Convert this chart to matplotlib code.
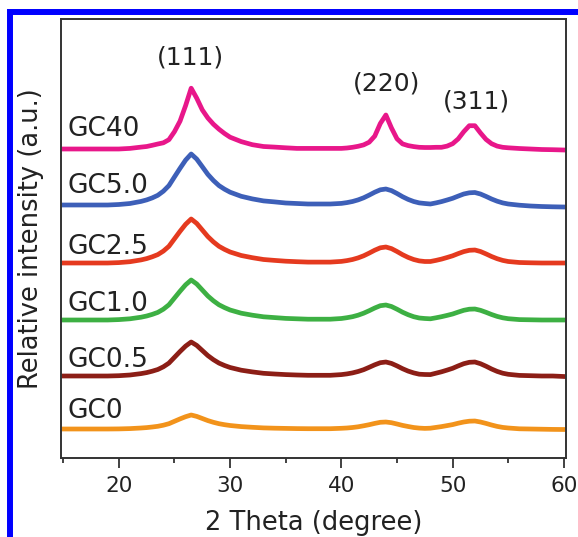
import matplotlib
matplotlib.use("Agg")
import matplotlib.pyplot as plt
from matplotlib.patches import Rectangle
from matplotlib.ticker import MultipleLocator

# 2-theta sampling positions (degree)
two_theta = [15, 16, 17, 18, 19, 20, 21, 22,
             22.5, 23, 23.5, 24, 24.5, 25, 25.5, 26, 26.5, 27, 27.5, 28, 28.5, 29, 29.5, 30,
             31, 32, 33, 34, 35, 36, 37, 38, 39, 40,
             40.5, 41, 41.5, 42, 42.5, 43, 43.5, 44, 44.5, 45, 45.5, 46, 46.5, 47, 47.5, 48,
             48.5, 49, 49.5, 50, 50.5, 51, 51.5, 52, 52.5, 53, 53.5, 54, 54.5, 55,
             56, 57, 58, 59, 60]

# offset intensity traces (a.u.)
gc40 = [313, 313, 313, 313, 313, 313, 313.6, 314.9,
        315.5, 316.7, 318, 319.2, 322.3, 330.4, 340.9, 356.4, 373.8, 363.8, 352.1, 344, 337.8, 332.8, 328.5, 324.8,
        320.4, 317.3, 315.5, 314.9, 314.2, 313.6, 313.6, 313.6, 313.6, 313.6,
        314, 314.7, 315.7, 317.1, 319.8, 325.9, 338.5, 347, 334.1, 323.2, 318.1, 316.4, 315.4, 314.7, 314.5, 314.5,
        314.7, 314.7, 315.9, 318.3, 323.1, 330.3, 336.3, 336.3, 329.1, 322.6, 318.3, 315.9, 314.7, 314.2,
        313.5, 313, 312.5, 312.3, 312]
gc50 = [257, 257, 257, 257, 257, 257.5, 258.5, 260.6,
        262.1, 264.1, 266.7, 270.8, 276.4, 285.1, 293.7, 301.9, 308, 302.9, 295.3, 287.6, 281.5, 276.4, 272.8, 269.8,
        265.7, 263.1, 261.1, 260.1, 259, 258.5, 258, 258, 258, 258.6,
        259.4, 260.5, 262.1, 264.2, 266.9, 269.8, 272.2, 273, 271.4, 268.5, 265.3, 262.6, 260.5, 259.1, 258.5, 258,
        259.1, 260.4, 262, 263.7, 265.9, 268, 269.2, 269.5, 268, 265.6, 263, 260.8, 259.1, 258,
        256.8, 256, 255.5, 255.2, 255]
gc25 = [199, 199, 199, 199, 199, 199.4, 200.3, 202.1,
        203.4, 205.2, 207.4, 210.9, 215.7, 223.2, 230.7, 237.7, 243, 238.6, 232, 225.4, 220.1, 215.7, 212.6, 210,
        206.5, 204.3, 202.5, 201.6, 200.8, 200.3, 199.9, 199.9, 199.9, 200.6,
        201.4, 202.5, 204.1, 206.2, 208.9, 211.8, 214.2, 215, 213.4, 210.5, 207.3, 204.6, 202.5, 201.1, 200.5, 200.5,
        201.6, 202.9, 204.5, 206.2, 208.4, 210.4, 211.7, 212, 210.5, 208.1, 205.5, 203.3, 201.6, 200.5,
        199.5, 199.2, 199, 199, 199]
gc10 = [142, 142, 142, 142, 142, 142.4, 143.2, 144.8,
        146, 147.6, 149.6, 152.8, 157.2, 164, 170.8, 177.2, 182, 178, 172, 166, 161.2, 157.2, 154.4, 152,
        148.8, 146.8, 145.2, 144.4, 143.6, 143.2, 142.8, 142.8, 142.8, 143.5,
        144.3, 145.3, 146.8, 148.8, 151.3, 154, 156.3, 157, 155.5, 152.8, 149.8, 147.3, 145.3, 144, 143.5, 143.2,
        144.2, 145.3, 146.6, 148, 149.9, 151.7, 152.8, 153, 151.7, 149.7, 147.5, 145.6, 144.2, 143.3,
        142.4, 142.2, 142, 142, 142]
gc05 = [86, 86, 86, 86, 86, 86.3, 87, 88.4,
        89.4, 90.8, 92.5, 95.2, 98.9, 104.7, 110.5, 115.9, 120, 116.6, 111.5, 106.4, 102.3, 98.9, 96.5, 94.5,
        91.8, 90.1, 88.7, 88, 87.4, 87, 86.7, 86.7, 86.7, 87.4,
        88.1, 89.1, 90.5, 92.3, 94.7, 97.2, 99.3, 100, 98.6, 96.1, 93.3, 90.9, 89.1, 87.8, 87.5, 87.4,
        88.8, 90.2, 91.9, 93.7, 96.1, 98.3, 99.7, 100, 98.3, 95.8, 93, 90.6, 88.8, 87.7,
        86.6, 86.3, 86, 86, 85.5]
gc0 = [33, 33, 33, 33, 33, 33.1, 33.4, 34,
       34.4, 35, 35.7, 36.8, 38.3, 40.7, 43.1, 45.3, 47, 45.6, 43.5, 41.4, 39.7, 38.3, 37.3, 36.5,
       35.4, 34.7, 34.1, 33.8, 33.6, 33.4, 33.3, 33.3, 33.3, 33.7,
       34, 34.5, 35.2, 36.2, 37.3, 38.6, 39.7, 40, 39.3, 38, 36.6, 35.5, 34.5, 33.9, 33.6, 33.8,
       34.6, 35.4, 36.4, 37.4, 38.8, 40, 40.8, 41, 40, 38.6, 37, 35.6, 34.6, 34,
       33.2, 33, 32.8, 32.6, 32.5]

series = [gc40, gc50, gc25, gc10, gc05, gc0]
sample_labels = ["GC40", "GC5.0", "GC2.5", "GC1.0", "GC0.5", "GC0"]
label_y = [333, 276, 215, 158, 102, 51]
colors = ["#e8178a", "#3d5fb8", "#e53a1f", "#3db043", "#8c1e16", "#f2931b"]

peak_labels = ["(111)", "(220)", "(311)"]
peak_x = [26.46, 44.08, 52.17]
peak_y = [404.5, 379, 360.3]

xticks = [20, 30, 40, 50, 60]

fig = plt.figure(figsize=(5.78, 5.37), dpi=100)
ax = fig.add_axes([61 / 578, 1 - 458 / 537, 505 / 578, 439 / 537])

for ys, c in zip(series, colors):
    ax.plot(two_theta, ys, color=c, lw=3.4, solid_joinstyle="round")

for lab, yy in zip(sample_labels, label_y):
    ax.text(15.35, yy, lab, fontsize=19, color="#222222", ha="left", va="center")

for lab, xx, yy in zip(peak_labels, peak_x, peak_y):
    ax.text(xx, yy, lab, fontsize=18, color="#222222", ha="center", va="center")

ax.set_xlim(14.8, 60.19)
ax.set_ylim(4, 443)
ax.set_xticks(xticks)
ax.set_xticklabels([str(t) for t in xticks])
ax.xaxis.set_minor_locator(MultipleLocator(5))
ax.set_yticks([])
ax.tick_params(axis="x", which="major", direction="out", length=7, width=1.3,
               labelsize=15.5, colors="#333333", labelcolor="#222222", pad=6)
ax.tick_params(axis="x", which="minor", direction="out", length=3.5, width=1.3, colors="#333333")
for s in ax.spines.values():
    s.set_color("#333333")
    s.set_linewidth(1.4)

ax.set_xlabel("2 Theta (degree)", fontsize=18.5, color="#222222", labelpad=10)
ax.set_ylabel("Relative intensity (a.u.)", fontsize=18.5, color="#222222", labelpad=12)

fig.patches.append(Rectangle((10 / 578, -0.1), 1.2, 1.1 - 12 / 537, transform=fig.transFigure,
                             fill=False, edgecolor="#0000ff", lw=4.3, clip_on=False))

fig.savefig("out.png", dpi=100)
